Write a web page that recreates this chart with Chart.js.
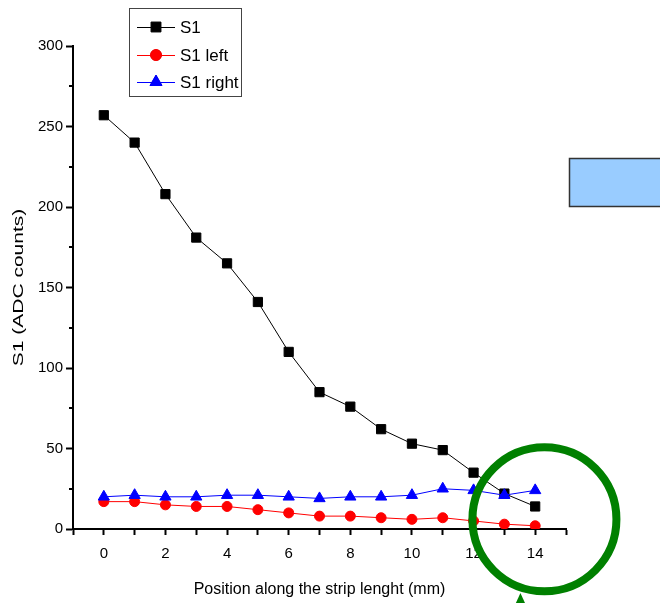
<!DOCTYPE html>
<html lang="en">
<head>
<meta charset="UTF-8">
<title>S1 along the strip</title>
<script src="https://cdn.jsdelivr.net/npm/chart.js"></script>
<style>
  body { margin: 0; background: #fff; }
</style>
</head>
<body>
<canvas id="stripChart" width="660" height="603"></canvas>
<script>
// data
const positions = [0, 1, 2, 3, 4, 5, 6, 7, 8, 9, 10, 11, 12, 13, 14];
const s1 = [257, 240, 208, 181, 165, 141, 110, 85, 76, 62, 53, 49, 35, 22, 14];
const s1Left = [17, 17, 15, 14, 14, 12, 10, 8, 8, 7, 6, 7, 5, 3, 2];
const s1Right = [20, 21, 20, 20, 21, 21, 20, 19, 20, 20, 21, 25, 24, 21, 24];
const xTickLabels = [0, 2, 4, 6, 8, 10, 12, 14];
const yTickLabels = [0, 50, 100, 150, 200, 250, 300];

// where the green highlight ring sits (data units)
const ringCenter = { x: 14.3, y: 6 };

const FONT = '"Liberation Sans", Arial, sans-serif';

function points(ys) {
  return positions.map((x, i) => ({ x: x, y: ys[i] }));
}

const decorations = {
  id: 'decorations',
  afterDraw(chart) {
    const ctx = chart.ctx;
    const xs = chart.scales.x, ys = chart.scales.y;
    ctx.save();

    // short minor ticks on y
    ctx.strokeStyle = '#000';
    ctx.lineWidth = 2;
    for (let v = 25; v < 300; v += 50) {
      const py = Math.round(ys.getPixelForValue(v));
      ctx.beginPath();
      ctx.moveTo(xs.left - 4, py);
      ctx.lineTo(xs.left, py);
      ctx.stroke();
    }

    // y title, stretched like the original
    ctx.save();
    ctx.translate(19, (ys.top + ys.bottom) / 2);
    ctx.rotate(-Math.PI / 2);
    ctx.scale(1.4, 1);
    ctx.font = '15px ' + FONT;
    ctx.fillStyle = '#000';
    ctx.textAlign = 'center';
    ctx.textBaseline = 'middle';
    ctx.fillText('S1 (ADC counts)', 0, 0);
    ctx.restore();

    // legend box
    ctx.fillStyle = '#fff';
    ctx.fillRect(129, 8, 112, 88);
    ctx.strokeStyle = '#444';
    ctx.lineWidth = 1;
    ctx.strokeRect(129.5, 8.5, 112, 88);
    const rows = [27, 55, 82];
    chart.data.datasets.forEach((ds, i) => {
      const y = rows[i];
      ctx.strokeStyle = ds.borderColor;
      ctx.lineWidth = 1;
      ctx.beginPath();
      ctx.moveTo(137, y + 0.5);
      ctx.lineTo(175, y + 0.5);
      ctx.stroke();
      Chart.helpers.drawPoint(ctx, {
        pointStyle: ds.pointStyle,
        radius: ds.pointRadius + 0.5,
        borderWidth: 1
      }, 156, y);
      ctx.fillStyle = ds.borderColor;
      ctx.fill();
      ctx.fillStyle = '#000';
      ctx.font = '17px ' + FONT;
      ctx.textAlign = 'left';
      ctx.textBaseline = 'middle';
      ctx.fillText(ds.label, 180, y + 1);
    });

    // light blue box at the right edge
    ctx.fillStyle = '#99ccff';
    ctx.fillRect(569, 158, 100, 48);
    ctx.strokeStyle = '#333';
    ctx.lineWidth = 1.5;
    ctx.strokeRect(569.5, 158.5, 100, 48);

    // green ring around the last points
    const cx = xs.getPixelForValue(ringCenter.x);
    const cy = ys.getPixelForValue(ringCenter.y);
    ctx.strokeStyle = 'rgb(0,128,0)';
    ctx.lineWidth = 8;
    ctx.beginPath();
    ctx.arc(cx, cy, 72, 0, Math.PI * 2);
    ctx.stroke();

    // small green arrow head under the ring
    ctx.fillStyle = 'rgb(0,128,0)';
    ctx.beginPath();
    ctx.moveTo(cx - 24, 593);
    ctx.lineTo(cx - 29, 604);
    ctx.lineTo(cx - 19, 604);
    ctx.closePath();
    ctx.fill();

    ctx.restore();
  }
};

new Chart(document.getElementById('stripChart'), {
  type: 'line',
  data: {
    datasets: [
      {
        label: 'S1',
        data: points(s1),
        borderColor: '#000',
        backgroundColor: '#000',
        pointStyle: 'rect',
        pointRadius: 6.5,
        borderWidth: 1,
        order: 3
      },
      {
        label: 'S1 left',
        data: points(s1Left),
        borderColor: '#ff0000',
        backgroundColor: '#ff0000',
        pointStyle: 'circle',
        pointRadius: 5,
        borderWidth: 1,
        order: 2
      },
      {
        label: 'S1 right',
        data: points(s1Right),
        borderColor: '#0000ff',
        backgroundColor: '#0000ff',
        pointStyle: 'triangle',
        pointRadius: 6.5,
        borderWidth: 1,
        order: 1
      }
    ]
  },
  options: {
    responsive: false,
    animation: false,
    layout: { padding: { left: 0, top: 46, right: 94, bottom: 0 } },
    plugins: {
      legend: { display: false },
      tooltip: { enabled: false }
    },
    scales: {
      x: {
        type: 'linear',
        min: -1,
        max: 15,
        afterFit(scale) { scale.height = 74; },
        border: { color: '#000', width: 2 },
        grid: { drawOnChartArea: false, tickLength: 6, tickColor: '#000', tickWidth: 2 },
        ticks: {
          stepSize: 1,
          autoSkip: false,
          maxRotation: 0,
          padding: 10,
          color: '#000',
          font: { family: FONT, size: 15 },
          callback: v => xTickLabels.includes(v) ? String(v) : ''
        },
        title: {
          display: true,
          text: 'Position along the strip lenght (mm)',
          color: '#000',
          font: { family: FONT, size: 16 },
          padding: { top: 4 }
        }
      },
      y: {
        min: 0,
        max: 300,
        afterFit(scale) { scale.width = 73; },
        border: { color: '#000', width: 2 },
        grid: {
          drawOnChartArea: false,
          tickLength: 7,
          tickWidth: 2,
          tickColor: c => yTickLabels.includes(c.tick.value) ? '#000' : 'rgba(0,0,0,0)'
        },
        ticks: {
          stepSize: 25,
          autoSkip: false,
          padding: 3,
          color: '#000',
          font: { family: FONT, size: 15 },
          callback: v => yTickLabels.includes(v) ? String(v) : ''
        }
      }
    }
  },
  plugins: [decorations]
});
</script>
</body>
</html>
